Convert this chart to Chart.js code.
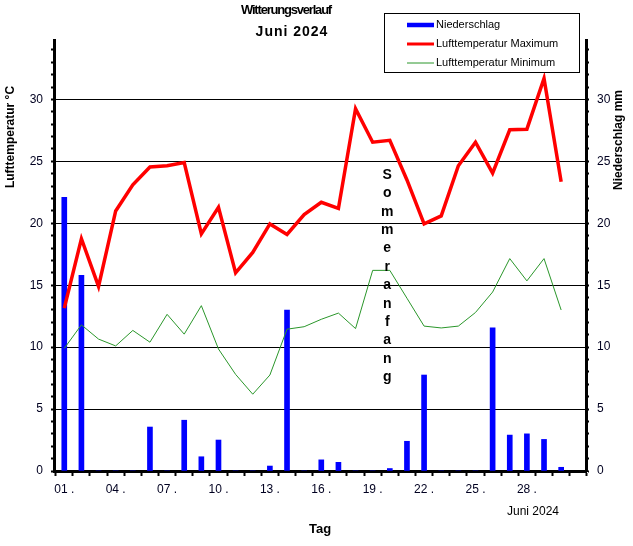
<!DOCTYPE html>
<html>
<head>
<meta charset="utf-8">
<title>Witterungsverlauf Juni 2024</title>
<script src="https://cdn.jsdelivr.net/npm/chart.js@4/dist/chart.umd.min.js"></script>
<style>
    body { margin: 0; background: #fff; }
</style>
</head>
<body>
<canvas id="grafik" width="633" height="546"></canvas>
<script>
        // Tage im Juni
        var tage = [1, 2, 3, 4, 5, 6, 7, 8, 9, 10, 11, 12, 13, 14, 15, 16, 17, 18, 19, 20, 21, 22, 23, 24, 25, 26, 27, 28, 29, 30];

        // Niederschlag in mm (rechte Achse)
        var niederschlag = [22.1, 15.8, 0, 0, 0, 3.55, 0, 4.1, 1.15, 2.5, 0, 0, 0.4, 13.0, 0, 0.9, 0.7, 0, 0, 0.2, 2.4, 7.75, 0, 0, 0, 11.55, 2.9, 3.0, 2.55, 0.3];

        // Lufttemperatur Maximum und Minimum in °C (linke Achse)
        var tempMax = [13.15, 18.75, 14.9, 21.0, 23.1, 24.55, 24.65, 24.9, 19.15, 21.3, 16.0, 17.65, 19.95, 19.1, 20.7, 21.7, 21.2, 29.25, 26.55, 26.7, 23.5, 19.95, 20.6, 24.65, 26.55, 24.05, 27.55, 27.6, 31.7, 23.35];
        var tempMin = [9.9, 11.8, 10.65, 10.1, 11.35, 10.4, 12.65, 11.05, 13.35, 9.85, 7.8, 6.2, 7.75, 11.45, 11.65, 12.25, 12.75, 11.5, 16.2, 16.2, 13.95, 11.7, 11.55, 11.7, 12.8, 14.45, 17.15, 15.35, 17.15, 13.0];

        // Beschriftete Tage auf der x-Achse
        var tagBeschriftung = [1, 4, 7, 10, 13, 16, 19, 22, 25, 28];

        var schrift = 'Arial, "Liberation Sans", sans-serif';
        var tickFarbe = '#000020';
        var yMax = 34.8;

        // Funktion: Werte als {x, y} Punkte
        function punkte(werte) {
            return tage.map(function (t, i) { return { x: t, y: werte[i] }; });
        }

        // Funktion: Ticks der y-Achsen (jede Einheit)
        function yTicks(scale) {
            var liste = [];
            for (var v = 0; v <= Math.floor(yMax); v++) {
                liste.push({ value: v });
            }
            scale.ticks = liste;
        }

        // Funktion: Ticks der x-Achse (Striche zwischen den Tagen, Text an den Tagen)
        function xTicks(scale) {
            var liste = [];
            for (var t = 0; t <= 31; t++) {
                liste.push({ value: t + 0.5 });
                if (tagBeschriftung.indexOf(t + 1) >= 0) {
                    liste.push({ value: t + 1 });
                }
            }
            scale.ticks = liste;
        }

        // Texte, Legende und "Sommeranfang"
        var textPlugin = {
            id: 'texte',
            afterDraw: function (chart) {
                var ctx = chart.ctx;
                var xs = chart.scales.x;
                ctx.save();
                ctx.fillStyle = '#000';
                ctx.textAlign = 'center';
                ctx.textBaseline = 'middle';

                ctx.font = 'bold 13px ' + schrift;
                ctx.letterSpacing = '-1.2px';
                ctx.fillText('Witterungsverlauf', 286, 10);
                ctx.font = 'bold 14px ' + schrift;
                ctx.letterSpacing = '1px';
                ctx.fillText('Juni 2024', 292, 32);
                ctx.letterSpacing = '0px';

                // Sommeranfang senkrecht
                ctx.font = 'bold 14px ' + schrift;
                var buchstaben = 'Sommeranfang'.split('');
                var sx = xs.getPixelForValue(19.85);
                buchstaben.forEach(function (b, i) {
                    ctx.fillText(b, sx, 175 + i * 18.4);
                });

                // Achsentitel
                ctx.font = 'bold 12px ' + schrift;
                ctx.save();
                ctx.translate(11, 137);
                ctx.rotate(-Math.PI / 2);
                ctx.fillText('Lufttemperatur °C', 0, 0);
                ctx.restore();
                ctx.save();
                ctx.translate(619, 140);
                ctx.rotate(-Math.PI / 2);
                ctx.fillText('Niederschlag mm', 0, 0);
                ctx.restore();

                ctx.font = 'bold 13px ' + schrift;
                ctx.fillText('Tag', 320, 529);
                ctx.font = '12px ' + schrift;
                ctx.fillText('Juni 2024', 533, 512);

                // Legende
                ctx.fillStyle = '#fff';
                ctx.fillRect(384, 13, 195, 59);
                ctx.strokeStyle = '#000';
                ctx.lineWidth = 1;
                ctx.strokeRect(384.5, 13.5, 195, 59);
                var eintraege = chart.data.datasets;
                var breiten = [4.5, 3, 1];
                eintraege.forEach(function (ds, i) {
                    var ly = 25 + i * 19;
                    ctx.strokeStyle = ds.type === 'line' ? ds.borderColor : ds.backgroundColor;
                    ctx.lineWidth = breiten[i];
                    ctx.beginPath();
                    ctx.moveTo(407, ly);
                    ctx.lineTo(434, ly);
                    ctx.stroke();
                    ctx.fillStyle = '#000';
                    ctx.textAlign = 'left';
                    ctx.font = '11px ' + schrift;
                    ctx.fillText(ds.label, 436, ly);
                });
                ctx.restore();
            }
        };

        var ctx = document.getElementById('grafik').getContext('2d');
        var grafik = new Chart(ctx, {
            type: 'bar',
            data: {
                datasets: [{
                    type: 'bar',
                    label: 'Niederschlag',
                    data: punkte(niederschlag),
                    yAxisID: 'y2',
                    backgroundColor: '#0000ff',
                    barThickness: 5,
                    order: 3
                }, {
                    type: 'line',
                    label: 'Lufttemperatur Maximum',
                    data: punkte(tempMax),
                    yAxisID: 'y',
                    borderColor: '#ff0000',
                    borderWidth: 3.5,
                    pointRadius: 0,
                    tension: 0,
                    order: 1
                }, {
                    type: 'line',
                    label: 'Lufttemperatur Minimum',
                    data: punkte(tempMin),
                    yAxisID: 'y',
                    borderColor: '#2a962a',
                    borderWidth: 1,
                    pointRadius: 0,
                    tension: 0,
                    order: 2
                }]
            },
            options: {
                responsive: false,
                devicePixelRatio: 1,
                animation: false,
                layout: { padding: { top: 40, left: 0, right: 0, bottom: 0 } },
                plugins: {
                    legend: { display: false },
                    tooltip: { enabled: false }
                },
                scales: {
                    x: {
                        type: 'linear',
                        min: 0.4,
                        max: 31.45,
                        offset: false,
                        afterBuildTicks: xTicks,
                        afterFit: function (s) { s.height = 75; },
                        ticks: {
                            autoSkip: false,
                            maxRotation: 0,
                            color: tickFarbe,
                            padding: 6,
                            font: { family: schrift, size: 12 },
                            callback: function (v) {
                                if (tagBeschriftung.indexOf(v) < 0) return '';
                                return (v < 10 ? '0' : '') + v + ' .';
                            }
                        },
                        grid: {
                            offset: false,
                            drawOnChartArea: false,
                            tickLength: 5,
                            tickWidth: 2,
                            tickColor: function (c) {
                                return (c.tick && c.tick.value % 1 !== 0) ? '#000' : 'rgba(0,0,0,0)';
                            }
                        },
                        border: { color: '#000', width: 3 }
                    },
                    y: {
                        position: 'left',
                        min: 0,
                        max: yMax,
                        afterBuildTicks: yTicks,
                        afterFit: function (s) { s.width = 54; },
                        ticks: {
                            autoSkip: false,
                            color: tickFarbe,
                            padding: 8,
                            font: { family: schrift, size: 12 },
                            callback: function (v) { return v % 5 === 0 ? v : ''; }
                        },
                        grid: {
                            color: function (c) {
                                var v = c.tick ? c.tick.value : 0;
                                return (v % 5 === 0 && v > 0) ? '#000' : 'rgba(0,0,0,0)';
                            },
                            lineWidth: 1,
                            tickColor: '#000',
                            tickLength: 3,
                            tickWidth: 2
                        },
                        border: { color: '#000', width: 3 }
                    },
                    y2: {
                        position: 'right',
                        min: 0,
                        max: yMax,
                        afterBuildTicks: yTicks,
                        afterFit: function (s) { s.width = 47; },
                        ticks: {
                            autoSkip: false,
                            color: tickFarbe,
                            padding: 8,
                            font: { family: schrift, size: 12 },
                            callback: function (v) { return v % 5 === 0 ? v : ''; }
                        },
                        grid: {
                            drawOnChartArea: false,
                            tickColor: '#000',
                            tickLength: 3,
                            tickWidth: 2
                        },
                        border: { color: '#000', width: 3 }
                    }
                }
            },
            plugins: [textPlugin]
        });
</script>
</body>
</html>
